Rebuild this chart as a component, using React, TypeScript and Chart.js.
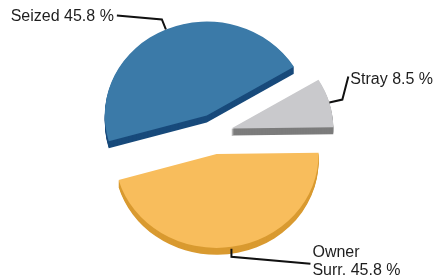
import { useEffect, useRef } from "react";
import { Chart, registerables } from "chart.js";

Chart.register(...registerables);

// ---- data ----
const categories = ["Seized", "Stray", "Owner Surr."];
const values = [45.8, 8.5, 45.8];
const wrapLabel = [false, false, true];

// ---- styles ----
const topColors = ["#3b7aa8", "#c9c9cc", "#f8bd5c"];
const sideColors = ["#184a7b", "#7c7c7c", "#d99a30"];
const TILT = 0.92;
const DEPTH = 7;
const EXPLODE_X = 18;
const EXPLODE_Y = 22;
const labelLayouts = [
  { path: [[0, 0], [-4, -10], [-49, -14]], text: [-52, -13], align: "right" },
  { path: [[0, 0], [13, -3], [19, -26]], text: [21, -23], align: "left" },
  { path: [[0, 2], [0, 10], [79, 17]], text: [81, 6], align: "left" },
];

function applyTransform(ctx: CanvasRenderingContext2D, cx: number, cy: number, dy: number, mid: number) {
  ctx.translate(cx, cy + dy);
  ctx.scale(1, TILT);
  ctx.translate(-cx, -cy);
  ctx.translate(Math.cos(mid) * EXPLODE_X, Math.sin(mid) * EXPLODE_Y);
}

const pie3d = {
  id: "pie3d",
  beforeDatasetsDraw(chart: any) {
    const ctx: CanvasRenderingContext2D = chart.ctx;
    const arcs = chart.getDatasetMeta(0).data as any[];
    for (let d = DEPTH; d >= 1; d--) {
      arcs.forEach((a, i) => {
        const mid = (a.startAngle + a.endAngle) / 2;
        ctx.save();
        applyTransform(ctx, a.x, a.y, d, mid);
        ctx.beginPath();
        ctx.moveTo(a.x, a.y);
        ctx.arc(a.x, a.y, a.outerRadius, a.startAngle, a.endAngle);
        ctx.closePath();
        ctx.fillStyle = sideColors[i];
        ctx.fill();
        ctx.restore();
      });
    }
    arcs.forEach((a) => {
      const mid = (a.startAngle + a.endAngle) / 2;
      ctx.save();
      applyTransform(ctx, a.x, a.y, 0, mid);
      a.draw(ctx);
      ctx.restore();
    });
    return false;
  },
  afterDraw(chart: any) {
    const ctx: CanvasRenderingContext2D = chart.ctx;
    const arcs = chart.getDatasetMeta(0).data as any[];
    ctx.save();
    ctx.font = "16px 'Liberation Sans', Arial, sans-serif";
    ctx.textBaseline = "middle";
    arcs.forEach((a, i) => {
      const mid = (a.startAngle + a.endAngle) / 2;
      const ax = a.x + Math.cos(mid) * (EXPLODE_X + a.outerRadius);
      const ay = a.y + Math.sin(mid) * (EXPLODE_Y + a.outerRadius) * TILT;
      const lay = labelLayouts[i];
      ctx.beginPath();
      lay.path.forEach(([dx, dy], k) => {
        if (k === 0) ctx.moveTo(ax + dx, ay + dy);
        else ctx.lineTo(ax + dx, ay + dy);
      });
      ctx.strokeStyle = "#111111";
      ctx.lineWidth = 2;
      ctx.stroke();
      const full = `${categories[i]} ${values[i]} %`;
      let lines = [full];
      if (wrapLabel[i]) {
        const sp = full.indexOf(" ");
        lines = [full.slice(0, sp), full.slice(sp + 1)];
      }
      ctx.fillStyle = "#1e1e1e";
      ctx.textAlign = lay.align as CanvasTextAlign;
      lines.forEach((ln, k) => {
        ctx.fillText(ln, ax + lay.text[0], ay + lay.text[1] + k * 18);
      });
    });
    ctx.restore();
  },
};

export default function App() {
  const ref = useRef<HTMLCanvasElement | null>(null);
  useEffect(() => {
    if (!ref.current) return;
    const chart = new Chart(ref.current, {
      type: "pie",
      data: {
        labels: categories,
        datasets: [
          {
            data: values,
            backgroundColor: topColors,
            borderWidth: 0,
            radius: 102,
          } as any,
        ],
      },
      options: {
        animation: false,
        responsive: false,
        rotation: 254,
        layout: { padding: { left: 0, right: 6, top: 0, bottom: 12 } },
        plugins: { legend: { display: false }, tooltip: { enabled: false } },
      },
      plugins: [pie3d],
    });
    return () => chart.destroy();
  }, []);
  return (
    <div style={{ position: "fixed", left: 0, top: 0, width: 434, height: 280, background: "#ffffff" }}>
      <canvas ref={ref} width={434} height={280} style={{ width: 434, height: 280 }} />
    </div>
  );
}
